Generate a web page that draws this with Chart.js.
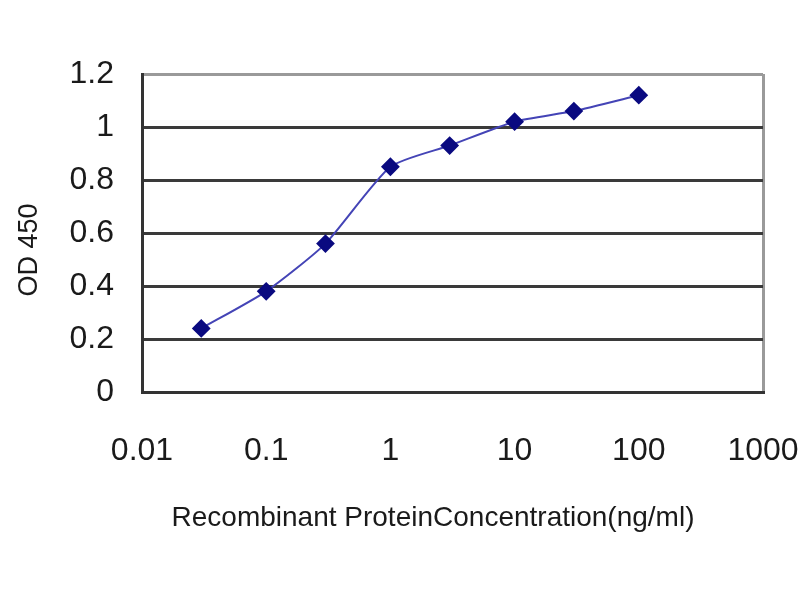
<!DOCTYPE html>
<html>
<head>
<meta charset="utf-8">
<script src="https://cdn.jsdelivr.net/npm/chart.js@4"></script>
<style>
  html, body { margin: 0; padding: 0; background: #fff; }
  #wrap { width: 800px; height: 600px; }
</style>
</head>
<body>
<div id="wrap"><canvas id="odChart" width="800" height="600"></canvas></div>
<script>
// Concentrations (ng/ml) and OD 450 readings
const concentrations = [0.03, 0.1, 0.3, 1, 3, 10, 30, 100];
const odValues = [0.24, 0.38, 0.56, 0.85, 0.93, 1.02, 1.06, 1.12];

// Axis ticks and titles
const xTicks = [0.01, 0.1, 1, 10, 100, 1000];
const yTickStep = 0.2;
const xTitle = 'Recombinant ProteinConcentration(ng/ml)';
const yTitle = 'OD 450';

const tickFont = { family: "'Liberation Sans', Arial, sans-serif", size: 32 };

const points = concentrations.map((c, i) => ({ x: c, y: odValues[i] }));

// axis titles sit a little off-centre in the original, so place them by hand
const axisTitles = {
  id: 'axisTitles',
  afterDraw(chart) {
    const c = chart.ctx;
    c.save();
    c.fillStyle = '#1a1a1a';
    c.textAlign = 'center';
    c.textBaseline = 'middle';
    c.font = "28px 'Liberation Sans', Arial, sans-serif";
    c.fillText(xTitle, 433, 518);
    c.translate(30, 250);
    c.rotate(-Math.PI / 2);
    c.font = "27px 'Liberation Sans', Arial, sans-serif";
    c.fillText(yTitle, 0, 0);
    c.restore();
  }
};

const ctx = document.getElementById('odChart').getContext('2d');
new Chart(ctx, {
  type: 'line',
  data: {
    datasets: [{
      data: points,
      borderColor: '#4444b6',
      borderWidth: 2,
      tension: 0.2,
      pointStyle: 'rectRot',
      pointRadius: 8,
      pointBackgroundColor: '#0a0a80',
      pointBorderColor: '#0a0a80',
      fill: false
    }]
  },
  options: {
    responsive: false,
    animation: false,
    layout: { padding: { left: 0, top: 74, right: 0, bottom: 0 } },
    plugins: { legend: { display: false }, tooltip: { enabled: false } },
    scales: {
      x: {
        type: 'logarithmic',
        min: 0.01,
        max: 1000,
        afterBuildTicks: axis => { axis.ticks = xTicks.map(v => ({ value: v })); },
        afterFit: axis => {
          axis.height = 208;
          axis.paddingLeft = 0;
          axis.paddingRight = 37;
        },
        ticks: {
          color: '#1a1a1a',
          font: tickFont,
          padding: 40,
          autoSkip: false,
          maxRotation: 0,
          callback: v => String(v)
        },
        grid: {
          drawTicks: false,
          color: c => c.index === xTicks.length - 1 ? '#9a9a9a' : 'rgba(0,0,0,0)',
          lineWidth: 3
        },
        border: { display: true, color: '#333', width: 3 }
      },
      y: {
        min: 0,
        max: 1.2,
        afterFit: axis => {
          axis.width = 142;
          axis.paddingTop = 0;
          axis.paddingBottom = 0;
        },
        ticks: {
          stepSize: yTickStep,
          color: '#1a1a1a',
          font: tickFont,
          padding: 28,
          callback: v => String(Number(v.toFixed(1)))
        },
        grid: {
          drawTicks: false,
          color: c => c.tick && c.tick.value >= 1.19 ? '#9a9a9a' : '#3a3a3a',
          lineWidth: 3
        },
        border: { display: true, color: '#333', width: 3 }
      }
    }
  },
  plugins: [axisTitles]
});
</script>
</body>
</html>
